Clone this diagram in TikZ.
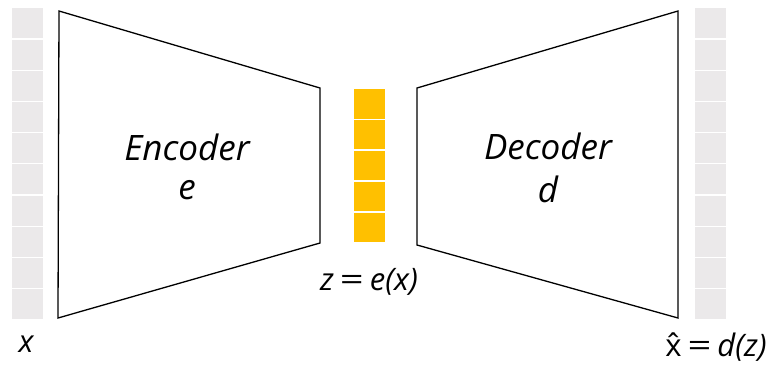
\documentclass[tikz,border=0pt]{standalone}
\usepackage{fontspec}
\setmainfont{Open Sans}
\newcommand{\wideeq}{\hspace{6pt}\scalebox{1.35}[1]{\upshape=}\hspace{6pt}}
\begin{document}
\begin{tikzpicture}[x=1pt,y=-1pt,
  block/.style={draw=black, line width=1.3pt, line join=miter},
  lbl/.style={font=\fontsize{35}{40}\selectfont\itshape, align=center, inner sep=0pt},
  mlbl/.style={font=\fontsize{31}{34}\selectfont, inner sep=0pt}]
\definecolor{cgray}{HTML}{EBE9EA}
\definecolor{cyel}{HTML}{FFC000}
\useasboundingbox (0,0) rectangle (771,365);
% input / output columns
\foreach \i in {0,...,9}{
  \fill[cgray] (12,{8.3+31.2*\i}) rectangle (43,{8.3+31.2*\i+30});
  \fill[cgray] (695,{8.3+31.2*\i}) rectangle (726,{8.3+31.2*\i+30});
}
% latent column
\foreach \i in {0,...,4}{
  \fill[cyel] (354,{89+30.9*\i}) rectangle (385,{89+30.9*\i+29.5});
}
% encoder / decoder
\draw[block] (59,11) -- (320,88) -- (320,243) -- (58,318) -- cycle;
\draw[block] (678,11) -- (417,88) -- (417,245) -- (678,318) -- cycle;
\node[lbl] (enc) at (187,147) {Encoder};
\node[lbl] (e) at (187,190) {e};
\node[lbl] (dec) at (548,146) {Decoder};
\node[lbl] (d) at (548,189) {d};
\node[mlbl] (z) at (369,282) {\itshape z\/\wideeq\itshape e(x)};
\node[mlbl] (x) at (26,344) {\itshape x};
\node[mlbl] (xh) at (716,347) {\accent"02C6 x\wideeq\itshape d(z)};
\end{tikzpicture}
\end{document}
